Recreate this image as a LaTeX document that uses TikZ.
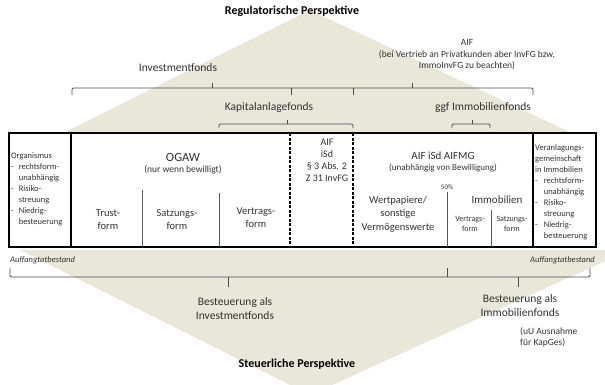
\documentclass[tikz,border=0pt]{standalone}
\usepackage{fontspec}
\setmainfont{Carlito}
\usetikzlibrary{positioning}

\definecolor{sand}{RGB}{233,230,218}
\definecolor{ink}{RGB}{50,50,50}

\begin{document}
\begin{tikzpicture}[
  x=1pt, y=-1pt,
  txt/.style={
    inner sep=0pt,
    align=center,
    text=ink,
    font=\fontsize{11.5}{14}\selectfont
  },
  head/.style={
    txt,
    text=black,
    font=\bfseries\fontsize{12}{14}\selectfont
  },
  note/.style={
    txt,
    font=\fontsize{9.5}{11.5}\selectfont
  },
  tiny/.style={
    txt,
    font=\fontsize{8}{10}\selectfont
  },
  side/.style={
    inner sep=0pt,
    text=ink,
    font=\fontsize{8.5}{11}\selectfont
  },
  catch/.style={
    inner sep=0pt,
    text=ink,
    font=\itshape\fontsize{8.5}{10}\selectfont
  },
  brace/.style={draw=black!70, line width=0.9pt, rounded corners=1.2pt},
  frame/.style={draw=black, line width=1.6pt},
  split/.style={draw=black!65, line width=0.8pt},
  dashsplit/.style={draw=black, line width=1.8pt, dash pattern=on 3pt off 1.5pt}
]

\useasboundingbox (0,0) rectangle (605,384);

% Background perspectives
\begin{scope}
  \clip (0,0) rectangle (605,384);
  \fill[sand] (310,10) -- (63,133) -- (572,133) -- cycle;
  \fill[sand] (20,250) -- (630,250) -- (310,395) -- cycle;
\end{scope}

% Regulatory side
\node[head] (reg) at (292,11) {Regulatorische Perspektive};
\node[txt] (invf) at (178,68) {Investmentfonds};
\node[note] (aif) at (467,55) {AIF\\(bei Vertrieb an Privatkunden aber InvFG bzw.\\ImmoInvFG zu beachten)};
\node[txt] (kaf) at (269,107) {Kapitalanlagefonds};
\node[txt] (immo) at (483,107) {ggf Immobilienfonds};

\draw[brace] (72,95) -- (72,88) -- (533,88) -- (533,95);
\draw[brace] (291,95) -- (291,88);
\draw[brace] (353,95) -- (353,88);
\draw[brace] (212,88) -- (212,83);
\draw[brace] (412,88) -- (412,83);
\draw[brace] (219,128) -- (219,124) -- (353,124) -- (353,128);
\draw[brace] (287,124) -- (287,120);
\draw[brace] (452,128) -- (452,124) -- (490,124) -- (490,128);
\draw[brace] (472,124) -- (472,120);

% Table
\draw[frame, fill=white] (9,133) rectangle (596,247);
\draw[frame] (71,133) -- (71,247);
\draw[frame] (533,133) -- (533,247);
\draw[dashsplit] (290,133) -- (290,247);
\draw[dashsplit] (353,133) -- (353,247);
\draw[split] (142,190) -- (142,247);
\draw[split] (219,193) -- (219,247);
\draw[split] (447,192) -- (447,247);
\draw[split] (491,210) -- (491,247);

\node[side, anchor=north west] (org) at (11,151) {%
  \begin{tabular}{@{}l@{\hspace{5pt}}l@{}}
    \multicolumn{2}{@{}l}{Organismus}\\
    - & rechtsform-\\
      & unabhängig\\
    - & Risiko-\\
      & streuung\\
    - & Niedrig-\\
      & besteuerung
  \end{tabular}};

\node[txt, font=\fontsize{12.5}{14}\selectfont] (ogaw) at (183,157) {OGAW};
\node[note] (ogawx) at (183,170) {(nur wenn bewilligt)};
\node[txt, font=\fontsize{10.5}{13}\selectfont] (trust) at (108,220) {Trust-\\form};
\node[txt, font=\fontsize{10.5}{13}\selectfont] (satz) at (177,220) {Satzungs-\\form};
\node[txt, font=\fontsize{10.5}{13}\selectfont] (vertr) at (256,218) {Vertrags-\\form};

\node[txt, font=\fontsize{10}{12}\selectfont] (isd) at (327,160) {AIF\\iSd\\§ 3 Abs. 2\\Z 31 InvFG};

\node[txt, font=\fontsize{11}{13}\selectfont] (aifmg) at (443,156) {AIF iSd AIFMG};
\node[note, font=\fontsize{9}{11}\selectfont] (aifmgx) at (443,168) {(unabhängig von Bewilligung)};
\node[tiny, font=\fontsize{7}{8}\selectfont] (half) at (447,187) {50\%};
\node[txt, font=\fontsize{10.5}{13.5}\selectfont] (wp) at (398,214) {Wertpapiere/\\sonstige\\Vermögenswerte};
\node[txt, font=\fontsize{11}{13}\selectfont] (immob) at (497,200) {Immobilien};
\node[tiny] (ivertr) at (470,224) {Vertrags-\\form};
\node[tiny] (isatz) at (512,224) {Satzungs-\\form};

\node[side, anchor=north west] (vgem) at (535,143) {%
  \begin{tabular}{@{}l@{\hspace{6pt}}l@{}}
    \multicolumn{2}{@{}l}{Veranlagungs-}\\
    \multicolumn{2}{@{}l}{gemeinschaft}\\
    \multicolumn{2}{@{}l}{in Immobilien}\\
    - & rechtsform-\\
      & unabhängig\\
    - & Risiko-\\
      & streuung\\
    - & Niedrig-\\
      & besteuerung
  \end{tabular}};

% Tax side
\node[catch, anchor=west] (catchl) at (10,260) {Auffangtatbestand};
\node[catch, anchor=east] (catchr) at (595,260) {Auffangtatbestand};

\draw[brace] (10,268) -- (10,277) -- (590,277) -- (590,268);
\draw[brace] (447,277) -- (447,268);
\draw[brace] (228,277) -- (228,287);
\draw[brace] (518,277) -- (518,287);

\node[txt] (taxinv) at (235,309) {Besteuerung als\\Investmentfonds};
\node[txt] (taximmo) at (520,306) {Besteuerung als\\Immobilienfonds};
\node[note, align=left, anchor=west] (kapges) at (520,337.5) {(uU Ausnahme\\für KapGes)};
\node[head] (tax) at (297,364) {Steuerliche Perspektive};

\end{tikzpicture}
\end{document}
